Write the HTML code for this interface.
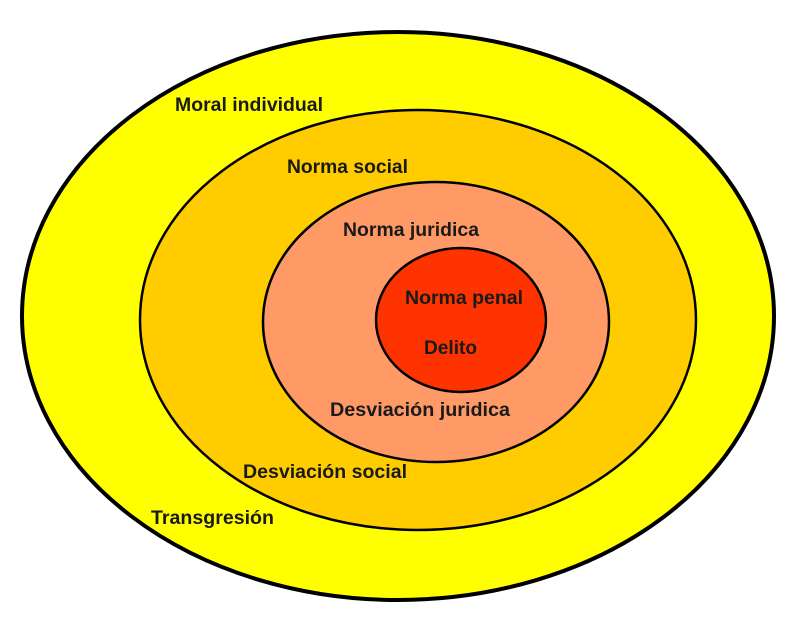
<!DOCTYPE html>
<html><head><meta charset="utf-8"><style>html,body{margin:0;padding:0;background:#fff}svg{display:block}</style></head>
<body>
<svg width="800" height="623" viewBox="0 0 800 623" xmlns="http://www.w3.org/2000/svg">
<rect width="800" height="623" fill="#fff"/>
<ellipse cx="398" cy="316" rx="376" ry="284" fill="#FFFF00" stroke="#000" stroke-width="4"/>
<ellipse cx="418" cy="320" rx="278" ry="210" fill="#FFCC00" stroke="#000" stroke-width="2.5"/>
<ellipse cx="436" cy="322" rx="173" ry="140" fill="#FF9966" stroke="#000" stroke-width="2.5"/>
<ellipse cx="461" cy="320" rx="85" ry="72" fill="#FF3300" stroke="#000" stroke-width="2.5"/>
<g font-family="Liberation Sans, Arial, sans-serif" font-weight="bold" font-size="19" fill="#1a1a1a">
<text x="175" y="111" textLength="148" lengthAdjust="spacingAndGlyphs">Moral individual</text>
<text x="287" y="173" textLength="121" lengthAdjust="spacingAndGlyphs">Norma social</text>
<text x="343" y="236" textLength="136" lengthAdjust="spacingAndGlyphs">Norma juridica</text>
<text x="405" y="304" textLength="118" lengthAdjust="spacingAndGlyphs">Norma penal</text>
<text x="424" y="354" textLength="53" lengthAdjust="spacingAndGlyphs">Delito</text>
<text x="330" y="416" textLength="180" lengthAdjust="spacingAndGlyphs">Desviación juridica</text>
<text x="243" y="478" textLength="164" lengthAdjust="spacingAndGlyphs">Desviación social</text>
<text x="151" y="524" textLength="123" lengthAdjust="spacingAndGlyphs">Transgresión</text>
</g>
</svg>
</body></html>
